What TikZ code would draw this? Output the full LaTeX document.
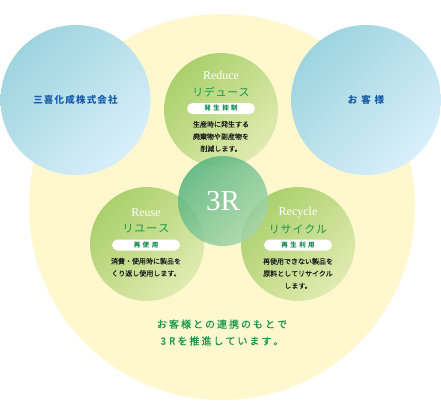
\documentclass[tikz,border=0pt]{standalone}
\usepackage{fontspec}
\newfontfamily\jp{Noto Sans CJK JP}
\newfontfamily\jpm[FakeBold=0.5]{Noto Sans CJK JP}
\newfontfamily\enserif{Liberation Serif}
\definecolor{ybg}{RGB}{255,248,206}
\definecolor{gtop}{RGB}{170,208,108}
\definecolor{gbot}{RGB}{224,235,176}
\definecolor{btop}{RGB}{158,212,222}
\definecolor{bbot}{RGB}{216,239,251}
\definecolor{rtop}{RGB}{84,180,126}
\definecolor{rbot}{RGB}{166,214,172}
\definecolor{bluetxt}{RGB}{22,92,170}
\definecolor{greentxt}{RGB}{20,150,76}
\definecolor{pilltxt}{RGB}{20,140,80}
\definecolor{darktxt}{RGB}{30,30,30}
\pgfdeclareradialshading{yellowbg}{\pgfpoint{0bp}{0bp}}{color(0bp)=(ybg); color(33bp)=(ybg); color(42bp)=(ybg!70!white); color(50bp)=(white); color(100bp)=(white)}
\def\spc#1{\ifx#1\relax\unkern\else#1\kern\spcamt\expandafter\spc\fi}
\def\spcamt{2pt}
\newcommand\sptext[2]{{\def\spcamt{#1}\spc #2\relax}}
\begin{document}
\begin{tikzpicture}[x=1pt,y=-1pt,
  bluecirc/.style={circle, minimum size=150pt, inner sep=0pt, shade, top color=btop, bottom color=bbot, shading angle=45, text=bluetxt, font=\jp\bfseries\fontsize{9.5}{11}\selectfont},
  greencirc/.style={circle, minimum size=114pt, inner sep=0pt, shade, top color=gtop, bottom color=gbot, shading angle=45},
  rcirc/.style={circle, minimum size=90pt, inner sep=0pt, shade, top color=rtop, bottom color=rbot, shading angle=45, fill opacity=0.85, text opacity=1, text=white, font=\enserif\fontsize{29}{32}\selectfont},
  entitle/.style={text=white, inner sep=0pt, font=\enserif\fontsize{12}{14}\selectfont},
  katitle/.style={text=greentxt, inner sep=0pt, font=\jp\fontsize{11}{13}\selectfont},
  pill/.style={fill=white, rounded corners=5.5pt, minimum width=68pt, minimum height=11pt, inner sep=0pt, text=pilltxt, font=\jp\bfseries\fontsize{6.5}{8}\selectfont},
  desc/.style={text=darktxt, inner sep=0pt, align=center, font=\jpm\fontsize{7}{12.2}\selectfont},
  bottomtxt/.style={text=greentxt, inner sep=0pt, align=center, font=\jpm\fontsize{10}{16.8}\selectfont}
]
\useasboundingbox (0,0) rectangle (441,404);
\fill[white] (0,0) rectangle (441,404);
\shade[shading=yellowbg] (222,207) circle (193pt);

\node[bluecirc] (company) at (75.5,100) {\sptext{1.2pt}{三喜化成株式会社}};
\node[bluecirc] (customer) at (366,100) {\sptext{3.8pt}{お客様}};

\node[greencirc] (reduce) at (221,110) {};
\node[greencirc] (reuse) at (147,244) {};
\node[greencirc] (recycle) at (298,244) {};

\node[rcirc] (threeR) at (223,201) {3R};

% Reduce
\node[entitle] (reduceEn) at (221,75) {Reduce};
\node[katitle] (reduceJa) at (221,92) {\sptext{0.6pt}{リデュース}};
\node[pill] (reducePill) at (221,108.5) {\sptext{2.5pt}{発生抑制}};
\node[desc] (reduceDesc) at (221,136.5) {生産時に発生する\\廃棄物や副産物を\\削減します。};

% Reuse
\node[entitle] (reuseEn) at (146,213) {Reuse};
\node[katitle] (reuseJa) at (146,229) {\sptext{1pt}{リユース}};
\node[pill] (reusePill) at (146,245) {\sptext{2.5pt}{再使用}};
\node[desc] (reuseDesc) at (146,267.3) {消費・使用時に製品を\\くり返し使用します。};

% Recycle
\node[entitle] (recycleEn) at (298,213) {Recycle};
\node[katitle] (recycleJa) at (298,229) {\sptext{0.8pt}{リサイクル}};
\node[pill] (recyclePill) at (298,245) {\sptext{2.5pt}{再生利用}};
\node[desc] (recycleDesc) at (298,273.5) {再使用できない製品を\\原料としてリサイクル\\します。};

\node[bottomtxt] (summary) at (222,332.5) {\sptext{2pt}{お客様との連携のもとで}\\\sptext{3pt}{3R}\kern2pt\sptext{2pt}{を推進しています。}};
\end{tikzpicture}
\end{document}
